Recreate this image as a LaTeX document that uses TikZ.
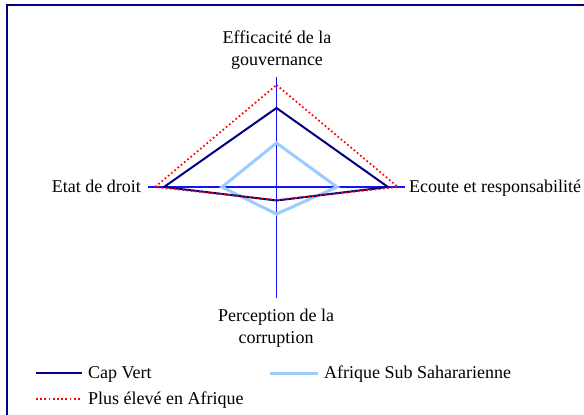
\documentclass[tikz,border=0pt]{standalone}
\usepackage{fontspec}
\setmainfont{Liberation Serif}
\definecolor{navy}{RGB}{0,0,128}
\definecolor{skyline}{RGB}{153,204,255}
\definecolor{axisblue}{RGB}{20,20,255}
\tikzset{lbl/.style={font=\fontsize{18}{22}\selectfont, inner sep=0pt, align=center},
  axisline/.style={axisblue, line width=1.2pt},
  cvline/.style={navy, line width=2pt, line join=miter},
  ssaline/.style={skyline, line width=3pt, line join=miter},
  maxline/.style={red, line width=1.7pt, dash pattern=on 1.7pt off 2.5pt}}

\begin{document}
\begin{tikzpicture}[x=1pt, y=-1pt]
    \useasboundingbox (0,0) rectangle (584,415);
    \draw[navy, line width=1.2pt] (7,5) rectangle (620,440);
    % axes
    \coordinate (c) at (276.5,187);
    \coordinate (n) at (276.5,77);
    \coordinate (e) at (405,187);
    \coordinate (s) at (276.5,298);
    \coordinate (w) at (148,187);
    \draw[axisline] (n) -- (s);
    \draw[axisline] (w) -- (e);
    \node[lbl, anchor=base] (gouv) at (277,65) {Efficacit\'e de la\\gouvernance};
    \node[lbl, anchor=base east] (droit) at (141,192) {Etat de droit};
    \node[lbl, anchor=base west] (ecoute) at (409,192) {Ecoute et responsabilit\'e};
    \node[lbl, anchor=base] (corr) at (276,343) {Perception de la\\corruption};
    % series
    \draw[ssaline] (276.5,143) -- (337,187) -- (276.5,214) -- (222,187) -- cycle;
    \draw[cvline] (276.5,108) -- (388,187) -- (276.5,200.5) -- (164,187) -- cycle;
    \draw[maxline] (276.5,85) -- (398,187) -- (276.5,200) -- (155,187) -- cycle;
    % legend
    \coordinate (cv1) at (36,373);
    \coordinate (cv2) at (82,373);
    \coordinate (ssa1) at (270,373);
    \coordinate (ssa2) at (318,373);
    \coordinate (max1) at (36,399);
    \coordinate (max2) at (82,399);
    \draw[cvline] (cv1) -- (cv2);
    \draw[ssaline] (ssa1) -- (ssa2);
    \draw[maxline] (max1) -- (max2);
    \node[lbl, anchor=base west] (cvtext) at (88,378) {Cap Vert};
    \node[lbl, anchor=base west] (ssatext) at (324,378) {Afrique Sub Sahararienne};
    \node[lbl, anchor=base west] (maxtext) at (88,404) {Plus \'elev\'e en Afrique};
\end{tikzpicture}
\end{document}
